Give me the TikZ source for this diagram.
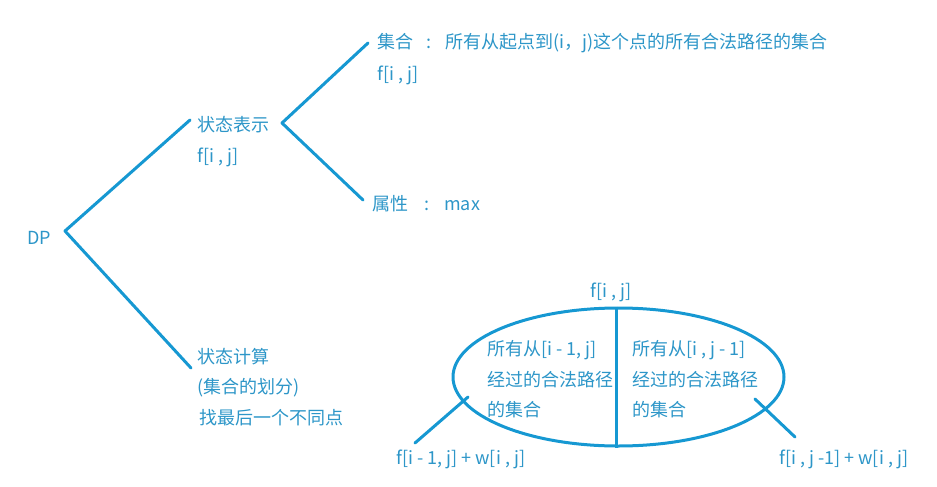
\documentclass[tikz,border=0pt]{standalone}
\usepackage{fontspec}
\usetikzlibrary{shapes.geometric,calc}
\setmainfont{Noto Sans CJK SC}
\definecolor{lineblue}{RGB}{22,152,210}
\definecolor{textblue}{RGB}{45,150,200}
\begin{document}
\begin{tikzpicture}[x=1pt,y=-1pt,
  lbl/.style={anchor=west,inner sep=0pt,text=textblue,font=\fontsize{18}{22}\selectfont},
  conn/.style={draw=lineblue,line width=3pt,line cap=round,line join=round}]
\useasboundingbox (0,0) rectangle (937,487);
% texts
\node[lbl] (dp) at (27,238) {DP};
\node[lbl] (rep) at (197,125) {状态表示};
\node[lbl] (repf) at (197,157) {f[i , j]};
\node[lbl] (set) at (377,43) {集合\hspace{13pt}:\hspace{14pt}所有从起点到(i，j)这个点的所有合法路径的集合};
\node[lbl] (setf) at (377,75) {f[i , j]};
\node[lbl] (attr) at (372,204) {属性\hspace{16pt}:\hspace{15pt}max};
\node[lbl] (calc) at (197,357) {状态计算};
\node[lbl] (calc2) at (197,388) {(集合的划分)};
\node[lbl] (calc3) at (199,418) {找最后一个不同点};
% vertices
\coordinate (v0) at (65,231);
\coordinate (v0a) at (190,120);
\coordinate (v0b) at (191,368);
\coordinate (v1) at (282,123);
\coordinate (v1a) at (368,43);
\coordinate (v1b) at (363,200);
\draw[conn] (v0a) -- (v0) -- (v0b);
\draw[conn] (v1a) -- (v1) -- (v1b);
% ellipse
\node[draw=lineblue,line width=3pt,ellipse,minimum width=331pt,minimum height=138pt,inner sep=0pt] (ell) at (618.5,377) {};
\draw[conn,line cap=butt] ($(ell.north)+(-2.5,0)$) -- ($(ell.south)+(-2.5,0)$);
\node[lbl,anchor=center] (top) at (611,292) {f[i , j]};
\node[lbl] (l1) at (487,350) {所有从[i - 1, j]};
\node[lbl] (l2) at (487,380) {经过的合法路径};
\node[lbl] (l3) at (487,410) {的集合};
\node[lbl] (r1) at (632,350) {所有从[i , j - 1]};
\node[lbl] (r2) at (632,380) {经过的合法路径};
\node[lbl] (r3) at (632,410) {的集合};
\node[lbl] (bl) at (396,459) {f[i - 1, j] + w[i , j]};
\node[lbl] (br) at (779,459) {f[i , j -1] + w[i , j]};
\coordinate (la) at (468,397);
\coordinate (lb) at (415,443);
\coordinate (ra) at (755,399);
\coordinate (rb) at (795,437);
\draw[conn] (la) -- (lb);
\draw[conn] (ra) -- (rb);
\end{tikzpicture}
\end{document}
